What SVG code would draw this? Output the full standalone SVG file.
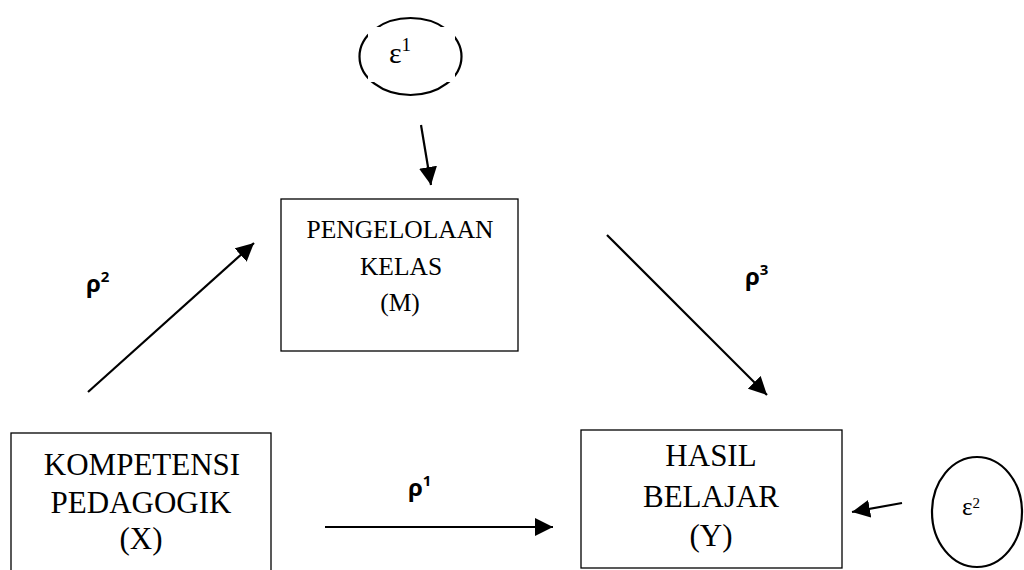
<svg xmlns="http://www.w3.org/2000/svg" width="1024" height="570" viewBox="0 0 1024 570">
  <style>
    .box { fill: #ffffff; stroke: #000000; stroke-width: 1.3; }
    .lbl { font-family: "Liberation Serif", "Times New Roman", serif; font-size: 31px; fill: #000; text-anchor: middle; }
    .lblm { font-family: "Liberation Serif", "Times New Roman", serif; font-size: 25.5px; fill: #000; text-anchor: middle; }
    .eps { font-family: "Liberation Serif", "Times New Roman", serif; fill: #000; }
    .rho { font-family: "Open Sans", "Liberation Sans", sans-serif; font-weight: bold; font-size: 24px; fill: #000; }
    .edge { stroke: #000; stroke-width: 2.2; fill: none; marker-end: url(#head); }
    .oval { fill: none; stroke: #000; stroke-width: 2.2; }
  </style>
  <defs>
    <marker id="head" markerUnits="userSpaceOnUse" markerWidth="20" markerHeight="18" refX="18" refY="9" orient="auto">
      <path d="M0,0 L18,9 L0,18 Z" fill="#000"/>
    </marker>
  </defs>
  <rect width="1024" height="570" fill="#ffffff"/>

  <!-- error term on the mediator (oval partly masked by its text frame) -->
  <g id="e1">
    <ellipse class="oval" cx="410.5" cy="56.5" rx="51" ry="38.5"/>
    <rect x="368" y="27" width="87" height="55" fill="#ffffff"/>
    <text class="eps" x="389" y="63" font-size="30">ε<tspan font-size="19" dy="-12">1</tspan></text>
  </g>

  <!-- error term on the outcome -->
  <g id="e2">
    <ellipse class="oval" cx="977" cy="512" rx="45" ry="55"/>
    <text class="eps" x="962" y="515" font-size="25">ε<tspan font-size="15" dy="-7">2</tspan></text>
  </g>

  <g id="nodeM">
    <rect class="box" x="281" y="199" width="237" height="152"/>
    <text class="lblm" x="400" y="238">PENGELOLAAN</text>
    <text class="lblm" x="401" y="275">KELAS</text>
    <text class="lblm" x="400" y="311">(M)</text>
  </g>

  <g id="nodeX">
    <rect class="box" x="11" y="433" width="260" height="150"/>
    <text class="lbl" x="142" y="475">KOMPETENSI</text>
    <text class="lbl" x="141" y="513">PEDAGOGIK</text>
    <text class="lbl" x="141" y="549">(X)</text>
  </g>

  <g id="nodeY">
    <rect class="box" x="581" y="430" width="261" height="138"/>
    <text class="lbl" x="711" y="466">HASIL</text>
    <text class="lbl" x="711" y="507">BELAJAR</text>
    <text class="lbl" x="711" y="546">(Y)</text>
  </g>

  <g id="connectors">
    <line class="edge" x1="421" y1="125" x2="431" y2="185"/>
    <line class="edge" x1="88" y1="392" x2="254" y2="243"/>
    <line class="edge" x1="607" y1="235" x2="767" y2="395"/>
    <line class="edge" x1="325" y1="527" x2="553" y2="527"/>
    <line class="edge" x1="902" y1="503" x2="852" y2="512"/>
  </g>

  <g id="labels">
    <text class="rho" x="86" y="292">ρ<tspan font-size="15" dy="-10">2</tspan></text>
    <text class="rho" x="745" y="285">ρ<tspan font-size="15" dy="-10">3</tspan></text>
    <text class="rho" x="408" y="496">ρ<tspan font-size="15" dy="-10">1</tspan></text>
  </g>
</svg>
